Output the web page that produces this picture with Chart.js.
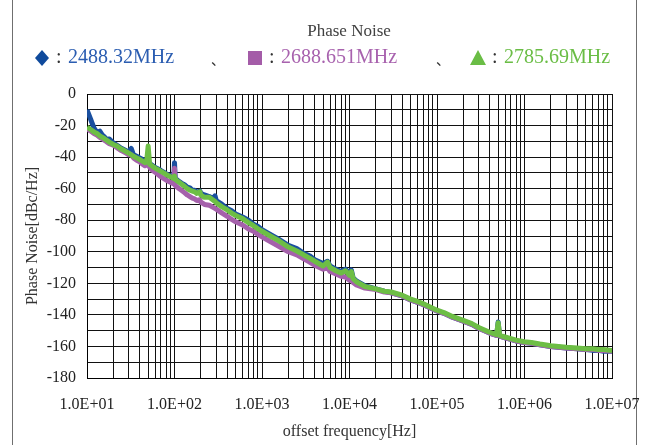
<!DOCTYPE html>
<html>
<head>
<meta charset="utf-8">
<script src="https://cdn.jsdelivr.net/npm/chart.js@4.4.1/dist/chart.umd.min.js"></script>
<style>
  html, body { margin: 0; padding: 0; background: #fff; }
  #wrap { width: 657px; height: 445px; position: relative; }
</style>
</head>
<body>
<div id="wrap"><canvas id="noiseChart" width="657" height="445"></canvas></div>
<script>
// offset frequency [Hz]
var freqHz = [
  10, 11, 12, 13, 14, 15, 16, 17, 18,
  20, 22, 24, 26, 28, 30, 32, 34, 37, 40, 43, 46, 48,
  50, 52, 55, 60, 65, 70, 75, 80, 90, 98, 100, 102,
  110, 120, 130, 140, 150, 160, 170, 180, 195, 200, 220, 250, 280, 290,
  300, 350, 400, 450, 500, 600, 700, 800, 900,
  1000, 1200, 1500, 2000, 2500, 3000, 3500, 4000, 5000, 5600, 6000, 7000, 8000, 9000,
  10000, 10500, 11000, 12000, 15000, 20000, 25000, 30000, 40000, 50000, 60000, 70000, 80000,
  100000, 120000, 150000, 200000, 250000, 300000, 400000, 450000, 480000, 500000, 520000, 600000, 700000, 800000,
  1000000, 1200000, 1500000, 2000000, 3000000, 4000000, 5000000, 6000000, 7000000, 8000000, 10000000
];

// phase noise [dBc/Hz], 2488.32MHz
var noise2488 = [
  -10, -16, -21.5, -24.5, -23.5, -26, -27.5, -29, -28.5,
  -31, -32.5, -34, -35, -36, -36.5, -34.5, -38.5, -39.5, -40.5, -41.5, -42.5, -43,
  -43.5, -44, -45, -46.5, -47.5, -48.5, -49.5, -50.5, -52, -53, -43.5, -53.5,
  -55, -56.5, -57.5, -59, -59.5, -61, -61, -62.5, -61.5, -63, -64, -65, -66.5, -64.5,
  -67.5, -70, -72.5, -74, -76, -78, -80, -82.5, -84,
  -86, -88.5, -91.5, -96, -98, -101, -102.5, -105, -107.5, -106, -109, -111, -112.5, -111,
  -114, -111.5, -116.5, -118.5, -121.5, -123.5, -125, -126, -128, -130.5, -132, -133.5, -135,
  -137.5, -139, -141.5, -144, -146, -148.5, -151.5, -152.5, -153, -144.5, -153.5, -154.5, -155.5, -156.5,
  -157.5, -158, -159, -160, -161, -161.5, -162, -162.5, -162.5, -163, -163
];

// phase noise [dBc/Hz], 2688.651MHz
var noise2688 = [
  -22, -23.5, -25, -26, -27.5, -28.5, -29.5, -30.5, -31.5,
  -32.5, -34, -35.5, -36.5, -37.5, -38.5, -38.5, -40.5, -42, -43, -44.5, -45.5, -45,
  -43, -46.5, -48, -49.5, -51, -52.5, -53.5, -54.5, -56, -57, -47, -58,
  -59.5, -61, -62.5, -64, -65, -66, -66.5, -67.5, -67, -68.5, -70, -70.5, -72, -72.5,
  -73, -75.5, -77.5, -79.5, -81, -83, -85.5, -87, -89,
  -90.5, -93, -96, -100, -102, -104.5, -106.5, -108.5, -111, -110, -112.5, -114, -115.5, -116,
  -118, -116.5, -119.5, -121, -123, -124, -125.5, -126, -128, -130.5, -132, -133.5, -135,
  -137.5, -139, -141.5, -144, -146, -148.5, -151.5, -152.5, -153, -147, -153.5, -154.5, -155.5, -156.5,
  -157.5, -158, -159, -160, -161, -161.5, -162, -162, -162.5, -162.5, -163
];

// phase noise [dBc/Hz], 2785.69MHz
var noise2785 = [
  -21, -22.5, -24, -25, -26.5, -27.5, -28.5, -29.5, -30.5,
  -32, -33, -34.5, -35.5, -36.5, -37.5, -38.5, -39.5, -40.5, -41.5, -42.5, -43.5, -43,
  -33, -44.5, -45.5, -47, -48, -49, -50, -51, -52.5, -53.5, -52, -54,
  -55.5, -57, -58.5, -60, -61, -61.5, -62, -63, -62, -64, -65.5, -65.5, -67.5, -68,
  -69, -71.5, -73.5, -75.5, -77, -79, -81.5, -83.5, -85.5,
  -87, -89.5, -92.5, -97, -99.5, -102, -104, -106, -109, -106.5, -110, -112, -113.5, -112,
  -115, -112.5, -117, -119, -122, -123.5, -125, -125.5, -127.5, -130, -131.5, -133, -134.5,
  -137, -138.5, -141, -143.5, -145.5, -148, -151, -152, -152.5, -145, -153, -154, -155, -156,
  -157, -157.5, -158.5, -159.5, -160.5, -161, -161.5, -161.5, -162, -162, -162.5
];

var seriesNames = ['2488.32MHz', '2688.651MHz', '2785.69MHz'];
var decadeTicks = [10, 100, 1000, 10000, 100000, 1000000, 10000000];
var decadeLabels = ['1.0E+01', '1.0E+02', '1.0E+03', '1.0E+04', '1.0E+05', '1.0E+06', '1.0E+07'];

var lineColors = ['#1a4f9f', '#a561ab', '#6dbe45'];
var markerColors = ['#0f4a9c', '#a45ca8', '#6abd45'];
var textColors = ['#2b5db1', '#a862ae', '#6abd45'];
var serif = '"Liberation Serif", "DejaVu Serif", serif';

function toPoints(vals) {
  return freqHz.map(function (f, i) { return { x: f, y: vals[i] }; });
}

// grid lines at 1..9 x 10^n
var gridFreqs = [];
decadeTicks.forEach(function (d, k) {
  if (k === decadeTicks.length - 1) { gridFreqs.push(d); return; }
  for (var m = 1; m <= 9; m++) gridFreqs.push(d * m);
});

var headerPlugin = {
  id: 'headerPlugin',
  beforeDraw: function (chart) {
    var c = chart.ctx;
    c.save();
    c.fillStyle = '#fff';
    c.fillRect(0, 0, chart.width, chart.height);
    c.strokeStyle = '#6f6f6f';
    c.lineWidth = 1;
    c.beginPath();
    c.moveTo(12.5, 0); c.lineTo(12.5, chart.height);
    c.moveTo(636.5, 0); c.lineTo(636.5, chart.height);
    c.stroke();
    c.restore();
  },
  afterDraw: function (chart) {
    var c = chart.ctx;
    c.save();
    c.textBaseline = 'middle';
    c.textAlign = 'center';
    c.fillStyle = '#404040';
    c.font = '17px ' + serif;
    c.fillText('Phase Noise', 349, 32);

    var y = 58;
    var markX = [42, 255, 478];
    var sepX = [211, 436];
    c.textAlign = 'left';
    c.font = '20px ' + serif;
    for (var i = 0; i < 3; i++) {
      var x = markX[i];
      c.fillStyle = markerColors[i];
      c.beginPath();
      if (i === 0) {
        c.moveTo(x, y - 8); c.lineTo(x + 7, y); c.lineTo(x, y + 8); c.lineTo(x - 7, y);
      } else if (i === 1) {
        c.rect(x - 7, y - 7, 14, 14);
      } else {
        c.moveTo(x, y - 8); c.lineTo(x + 8, y + 7); c.lineTo(x - 8, y + 7);
      }
      c.closePath();
      c.fill();
      c.fillStyle = '#333';
      c.fillText(':', x + 14, y);
      c.fillStyle = textColors[i];
      c.fillText(seriesNames[i], x + 26, y);
      if (i < 2) {
        c.fillStyle = '#333';
        c.font = '14px "Noto Sans CJK JP"';
        c.fillText('、', sepX[i], y + 2);
        c.font = '20px ' + serif;
      }
    }
    c.restore();
  }
};

var ctx = document.getElementById('noiseChart').getContext('2d');
var noiseChart = new Chart(ctx, {
  type: 'line',
  data: {
    datasets: [
      { label: seriesNames[0], data: toPoints(noise2488), borderColor: lineColors[0], order: 2 },
      { label: seriesNames[1], data: toPoints(noise2688), borderColor: lineColors[1], order: 1 },
      { label: seriesNames[2], data: toPoints(noise2785), borderColor: lineColors[2], order: 0 }
    ]
  },
  options: {
    responsive: false,
    animation: false,
    devicePixelRatio: 1,
    layout: { padding: { top: 94, right: 45, bottom: 0, left: 12 } },
    elements: {
      line: { borderWidth: 5, tension: 0, fill: false, borderJoinStyle: 'round' },
      point: { radius: 0 }
    },
    plugins: {
      legend: { display: false },
      title: { display: false },
      tooltip: { enabled: false }
    },
    scales: {
      x: {
        type: 'logarithmic',
        min: 10,
        max: 10000000,
        afterBuildTicks: function (scale) {
          scale.ticks = gridFreqs.map(function (v) { return { value: v }; });
        },
        afterFit: function (scale) { scale.height = 67; },
        ticks: {
          autoSkip: false,
          maxRotation: 0,
          padding: 17,
          color: '#222',
          font: { family: serif, size: 16 },
          callback: function (value) {
            var k = decadeTicks.indexOf(value);
            return k >= 0 ? decadeLabels[k] : '';
          }
        },
        grid: { color: '#111', lineWidth: 1, drawTicks: false },
        border: { color: '#000' },
        title: {
          display: true,
          text: 'offset frequency[Hz]',
          color: '#333',
          font: { family: serif, size: 16 },
          padding: { top: 0, bottom: 4 }
        }
      },
      y: {
        min: -180,
        max: 0,
        afterFit: function (scale) { scale.width = 75; },
        ticks: {
          stepSize: 10,
          autoSkip: false,
          padding: 11,
          color: '#222',
          font: { family: serif, size: 16 },
          callback: function (value) { return value % 20 === 0 ? value : ''; }
        },
        grid: { color: '#111', lineWidth: 1, drawTicks: false },
        border: { color: '#000' },
        title: {
          display: true,
          text: 'Phase Noise[dBc/Hz]',
          color: '#333',
          font: { family: serif, size: 16 },
          padding: { top: 11, bottom: 0 }
        }
      }
    }
  },
  plugins: [headerPlugin]
});
</script>
</body>
</html>
